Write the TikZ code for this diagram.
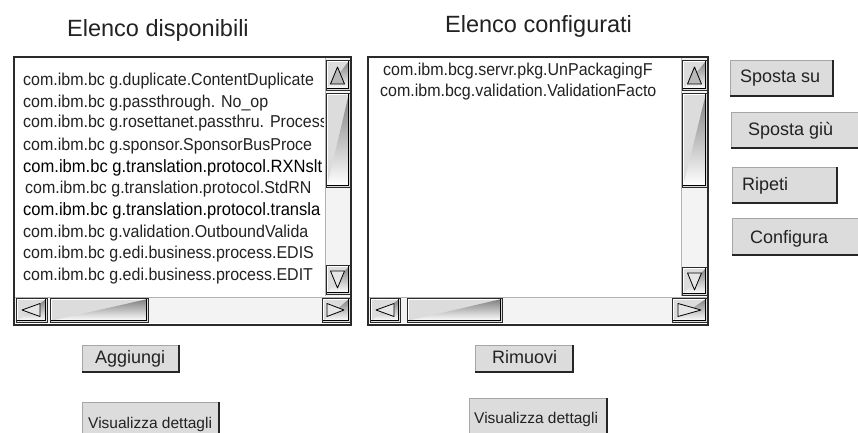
\documentclass[tikz,border=0pt]{standalone}
\usepackage{fontspec}
\setmainfont{Liberation Sans}
\newfontfamily\listfont[FakeStretch=0.93]{Liberation Sans}
\definecolor{btnface}{HTML}{DCDCDC}
\definecolor{track}{HTML}{F3F3F3}
\definecolor{edge}{HTML}{2A2A2A}
\definecolor{shade}{HTML}{7C7C7C}
\definecolor{ink}{HTML}{222222}

% raised scrollbar part (button or thumb)
\newcommand\guibox[4]{%
  \fill[btnface] (#1,#2) rectangle (#3,#4);
  \draw[white,line width=1.2pt] (#1+1.2,#4-1.2) -- (#1+1.2,#2+1.2) -- (#3-1.2,#2+1.2);
  \draw[shade,line width=1.2pt] (#1+1.2,#4-1.2) -- (#3-1.2,#4-1.2) -- (#3-1.2,#2+1.2);
  \draw[edge,line width=0.8pt] (#1,#2) rectangle (#3,#4);}

% push button with a light top-left and a dark bottom-right edge
\newcommand\pushbtn[4]{%
  \fill[btnface] (#1,#2) rectangle (#3,#4);
  \draw[gray!70,line width=0.9pt] (#1,#4) -- (#1,#2) -- (#3,#2);
  \draw[black!85,line width=1.4pt] (#1,#4) -- (#3,#4) -- (#3,#2);}

\tikzset{
  listtext/.style={anchor=base west, inner sep=0pt, text=ink,
                   font=\listfont\fontsize{17.2}{17}\selectfont},
  listbold/.style={listtext, text=black, font=\listfont\fontsize{17.8}{17}\selectfont},
  title/.style={anchor=base west, inner sep=0pt, text=ink,
                font=\fontsize{23.5}{24}\selectfont},
  btntext/.style={anchor=base west, inner sep=0pt, text=ink,
                  font=\fontsize{18}{18}\selectfont},
  smallbtntext/.style={anchor=base west, inner sep=0pt, text=ink,
                  font=\fontsize{15.5}{16}\selectfont},
  frame/.style={draw=edge, line width=1.6pt, fill=white},
  arrowup/.style={draw=black, line width=0.8pt, fill=gray!55, line join=round},
  arrowglyph/.style={draw=black, line width=0.8pt, fill=btnface!70, line join=round},
}

\begin{document}
\begin{tikzpicture}[x=1pt,y=-1pt]
\clip (0,0) rectangle (858,433);
\fill[white] (0,0) rectangle (858,433);

% ---------- titles ----------
\node[title] (tAvail) at (67,37) {Elenco disponibili};
\node[title] (tConf) at (445,33) {Elenco configurati};

% ---------- available list ----------
\draw[frame] (14,57) rectangle (351,325);
\begin{scope}
  \clip (15,58) rectangle (323,296);
  \node[listtext] (a1) at (23,86) {com.ibm.bc g.duplicate.ContentDuplicate};
  \node[listtext] (a2) at (23,107) {com.ibm.bc g.passthrough. No\_op};
  \node[listtext] (a3) at (23,128) {com.ibm.bc g.rosettanet.passthru. Process};
  \node[listtext] (a4) at (23,150) {com.ibm.bc g.sponsor.SponsorBusProce};
  \node[listbold] (a5) at (23,172) {com.ibm.bc g.translation.protocol.RXNslt};
  \node[listtext] (a6) at (25,193) {com.ibm.bc g.translation.protocol.StdRN};
  \node[listbold] (a7) at (23,215) {com.ibm.bc g.translation.protocol.transla};
  \node[listtext] (a8) at (23,237) {com.ibm.bc g.validation.OutboundValida};
  \node[listtext] (a9) at (23,258) {com.ibm.bc g.edi.business.process.EDIS};
  \node[listtext] (a10) at (23,280) {com.ibm.bc g.edi.business.process.EDIT};
\end{scope}
% vertical scrollbar
\fill[track] (325,58) rectangle (350,296);
\draw[gray!60] (325,58) -- (325,296);
\guibox{326}{60}{350}{90}
\draw[arrowup] (330.5,84) -- (344.5,84) -- (337.5,67) -- cycle;
\guibox{326}{93}{350}{187}
\guibox{326}{265}{350}{294}
\draw[arrowglyph] (330.5,271) -- (344.5,271) -- (337.5,288) -- cycle;
% horizontal scrollbar
\fill[track] (15,297) rectangle (350,323);
\draw[gray!60] (15,297) -- (350,297);
\guibox{16}{298}{47}{322}
\draw[arrowglyph] (22,310) -- (40,303.5) -- (40,316.5) -- cycle;
\guibox{50}{298}{148}{322}
\guibox{322}{298}{350}{322}
\draw[arrowglyph] (344,310) -- (327,303.5) -- (327,316.5) -- cycle;

% ---------- configured list ----------
\draw[frame] (368,57) rectangle (708,325);
\begin{scope}
  \clip (369,58) rectangle (681,296);
  \node[listtext] (c1) at (383,76) {com.ibm.bcg.servr.pkg.UnPackagingF};
  \node[listtext] (c2) at (380,96) {com.ibm.bcg.validation.ValidationFacto};
\end{scope}
% vertical scrollbar
\fill[track] (681,58) rectangle (707,296);
\draw[gray!60] (681,58) -- (681,296);
\guibox{682}{60}{707}{90}
\draw[arrowup] (687.5,84) -- (701.5,84) -- (694.5,67) -- cycle;
\guibox{682}{93}{707}{187}
\guibox{682}{267}{707}{295}
\draw[arrowglyph] (687.5,273) -- (701.5,273) -- (694.5,290) -- cycle;
% horizontal scrollbar
\fill[track] (369,297) rectangle (707,323);
\draw[gray!60] (369,297) -- (707,297);
\guibox{370}{298}{400}{322}
\draw[arrowglyph] (376,310) -- (394,303.5) -- (394,316.5) -- cycle;
\guibox{407}{298}{502}{322}
\guibox{672}{298}{707}{322}
\draw[arrowglyph] (701,310) -- (678,303.5) -- (678,316.5) -- cycle;

% ---------- side buttons ----------
\pushbtn{730}{60}{833}{96}
\node[btntext] (bUp) at (740,83) {Sposta su};
\pushbtn{731}{112}{866}{148}
\node[btntext] (bDown) at (748,135) {Sposta giù};
\pushbtn{732}{167}{837}{203}
\node[btntext] (bRepeat) at (742,190) {Ripeti};
\pushbtn{732}{218}{866}{255}
\node[btntext] (bConfig) at (750,243) {Configura};

% ---------- bottom buttons ----------
\pushbtn{82}{345}{179}{372}
\node[btntext] (bAdd) at (95,363) {Aggiungi};
\pushbtn{82}{402}{219}{440}
\node[smallbtntext] (bDetailsA) at (88,428) {Visualizza dettagli};
\pushbtn{475}{345}{573}{372}
\node[btntext] (bRemove) at (492,363) {Rimuovi};
\pushbtn{469}{398}{607}{440}
\node[smallbtntext] (bDetailsC) at (474,423) {Visualizza dettagli};
\end{tikzpicture}
\end{document}
